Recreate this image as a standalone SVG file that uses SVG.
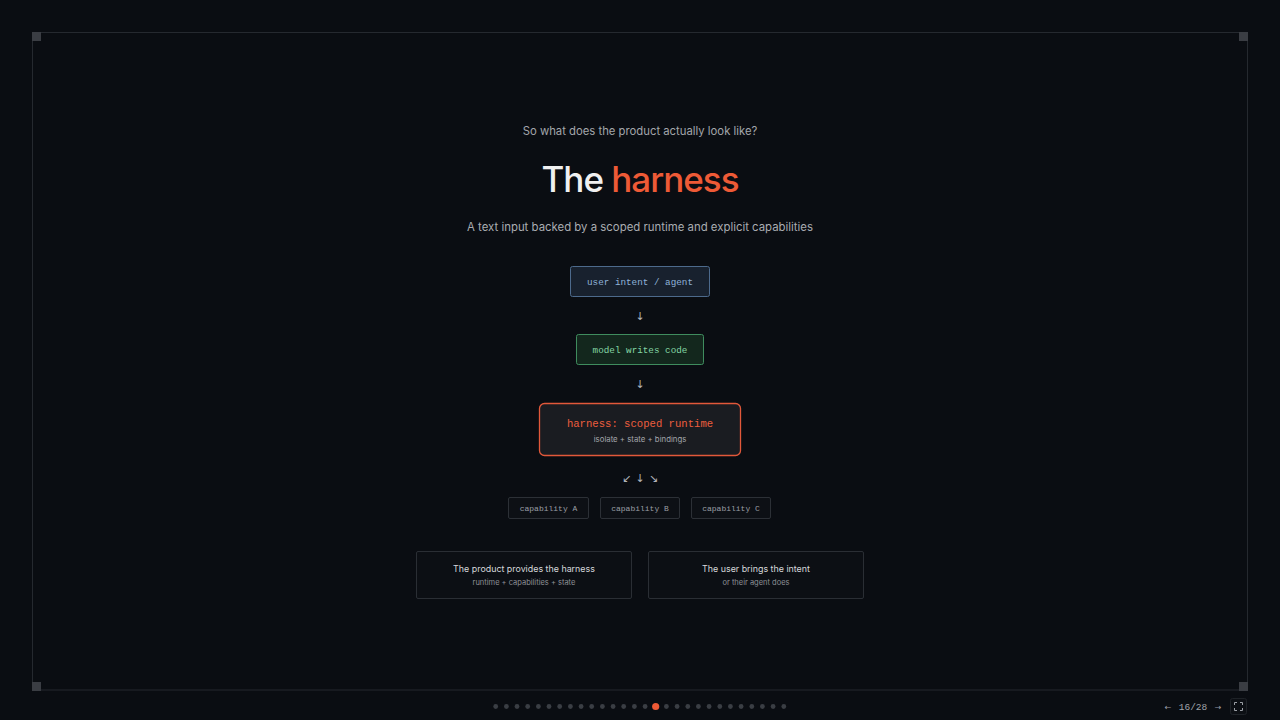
<svg xmlns="http://www.w3.org/2000/svg" width="1280" height="720" viewBox="0 0 1280 720">
<defs>
<style>
.sans{font-family:Inter,"Noto Sans","Liberation Sans",sans-serif}
.mono{font-family:"Liberation Mono","DejaVu Sans Mono",monospace}
.arrow{font-family:"DejaVu Sans",sans-serif;font-size:11px;fill:#b0b3b8;text-anchor:middle}
.cap rect{fill:#0d1015;stroke:#2c3036;stroke-width:1}
.cap text{font-size:8px;fill:#9a9ea4;text-anchor:middle}
.card rect{fill:#0c0f14;stroke:#2a2e34;stroke-width:1}
.dot{fill:#3a3e44}
.corner{fill:#3a3d43}
</style>
</defs>
<rect width="1280" height="720" fill="#0a0d12"/>
<rect x="32.5" y="32.5" width="1215" height="657.5" fill="none" stroke="#25292f" stroke-width="1"/>
<rect class="corner" x="32" y="32" width="9" height="9"/>
<rect class="corner" x="1239" y="32" width="9" height="9"/>
<rect class="corner" x="32" y="682" width="9" height="9"/>
<rect class="corner" x="1239" y="682" width="9" height="9"/>

<g id="header" class="sans" text-anchor="middle">
<text x="640" y="135" font-size="11.3" fill="#a3a6ab">So what does the product actually look like?</text>
<text x="640" y="192" font-size="35" font-weight="500" letter-spacing="-1"><tspan fill="#f0f0f0">The </tspan><tspan fill="#ee5a36">harness</tspan></text>
<text x="640" y="231" font-size="11.4" fill="#a9acb1">A text input backed by a scoped runtime and explicit capabilities</text>
</g>

<g id="node-user">
<rect x="570.5" y="266.5" width="139" height="30" rx="2" fill="#18212e" stroke="#4d6a8c"/>
<text class="mono" x="640" y="285" font-size="9.3" fill="#8fb3d9" text-anchor="middle">user intent / agent</text>
</g>
<g id="node-model">
<rect x="576.5" y="334.5" width="127" height="30" rx="2" fill="#13271d" stroke="#3f8c5e"/>
<text class="mono" x="640" y="353" font-size="9.3" fill="#83d6a4" text-anchor="middle">model writes code</text>
</g>
<g id="node-harness">
<rect x="539.5" y="403.5" width="201" height="52" rx="5" fill="#1a1c21" stroke="#e2583a" stroke-width="1.3"/>
<text class="mono" x="640" y="426.5" font-size="10.6" fill="#ec5e3e" text-anchor="middle">harness: scoped runtime</text>
<text class="sans" x="640" y="441.5" font-size="7.8" fill="#a2a5aa" text-anchor="middle">isolate + state + bindings</text>
</g>
<g id="node-capA" class="cap">
<rect x="508.5" y="497.5" width="80" height="21" rx="1.5"/>
<text class="mono" x="548.5" y="510.5">capability A</text>
</g>
<g id="node-capB" class="cap">
<rect x="600.5" y="497.5" width="79" height="21" rx="1.5"/>
<text class="mono" x="640" y="510.5">capability B</text>
</g>
<g id="node-capC" class="cap">
<rect x="691.5" y="497.5" width="79" height="21" rx="1.5"/>
<text class="mono" x="731" y="510.5">capability C</text>
</g>

<g id="connectors">
<text class="arrow" x="640" y="319.5">↓</text>
<text class="arrow" x="640" y="387.5">↓</text>
<text class="arrow" x="626.5" y="482">↙</text>
<text class="arrow" x="640" y="482">↓</text>
<text class="arrow" x="653.5" y="482">↘</text>
</g>

<g id="card-product" class="card">
<rect x="416.5" y="551.5" width="215" height="47" rx="1.5"/>
<text class="sans" x="524" y="571.5" font-size="8.9" fill="#d6d8db" text-anchor="middle">The product provides the harness</text>
<text class="sans" x="524" y="585" font-size="7.5" fill="#8c9096" text-anchor="middle">runtime + capabilities + state</text>
</g>
<g id="card-user" class="card">
<rect x="648.5" y="551.5" width="215" height="47" rx="1.5"/>
<text class="sans" x="756" y="571.5" font-size="8.9" fill="#d6d8db" text-anchor="middle">The user brings the intent</text>
<text class="sans" x="756" y="585" font-size="7.5" fill="#8c9096" text-anchor="middle">or their agent does</text>
</g>

<g id="pager">
<circle class="dot" cx="495.7" cy="706.5" r="2.4"/>
<circle class="dot" cx="506.4" cy="706.5" r="2.4"/>
<circle class="dot" cx="517.0" cy="706.5" r="2.4"/>
<circle class="dot" cx="527.7" cy="706.5" r="2.4"/>
<circle class="dot" cx="538.4" cy="706.5" r="2.4"/>
<circle class="dot" cx="549.0" cy="706.5" r="2.4"/>
<circle class="dot" cx="559.7" cy="706.5" r="2.4"/>
<circle class="dot" cx="570.4" cy="706.5" r="2.4"/>
<circle class="dot" cx="581.1" cy="706.5" r="2.4"/>
<circle class="dot" cx="591.7" cy="706.5" r="2.4"/>
<circle class="dot" cx="602.4" cy="706.5" r="2.4"/>
<circle class="dot" cx="613.1" cy="706.5" r="2.4"/>
<circle class="dot" cx="623.7" cy="706.5" r="2.4"/>
<circle class="dot" cx="634.4" cy="706.5" r="2.4"/>
<circle class="dot" cx="645.1" cy="706.5" r="2.4"/>
<circle cx="655.7" cy="706.5" r="3.6" fill="#ee5a36"/>
<circle class="dot" cx="666.4" cy="706.5" r="2.4"/>
<circle class="dot" cx="677.1" cy="706.5" r="2.4"/>
<circle class="dot" cx="687.8" cy="706.5" r="2.4"/>
<circle class="dot" cx="698.4" cy="706.5" r="2.4"/>
<circle class="dot" cx="709.1" cy="706.5" r="2.4"/>
<circle class="dot" cx="719.8" cy="706.5" r="2.4"/>
<circle class="dot" cx="730.4" cy="706.5" r="2.4"/>
<circle class="dot" cx="741.1" cy="706.5" r="2.4"/>
<circle class="dot" cx="751.8" cy="706.5" r="2.4"/>
<circle class="dot" cx="762.4" cy="706.5" r="2.4"/>
<circle class="dot" cx="773.1" cy="706.5" r="2.4"/>
<circle class="dot" cx="783.8" cy="706.5" r="2.4"/>
</g>

<g id="nav">
<text x="1168" y="709.5" font-family="DejaVu Sans,sans-serif" font-size="8" fill="#9a9ea4" text-anchor="middle">←</text>
<text x="1193" y="710" font-family="Liberation Mono,monospace" font-size="9.5" fill="#a0a4aa" text-anchor="middle">16/28</text>
<text x="1218" y="709.5" font-family="DejaVu Sans,sans-serif" font-size="8" fill="#9a9ea4" text-anchor="middle">→</text>
<rect x="1230.5" y="698.5" width="16" height="16" rx="2" fill="#0c0f14" stroke="#1e2227"/>
<path d="M1234.5 705v-2.5h2.5M1240 702.5h2.5v2.5M1242.5 708v2.5H1240M1237 710.5h-2.5V708" fill="none" stroke="#9a9ea4" stroke-width="1"/>
</g>
</svg>
